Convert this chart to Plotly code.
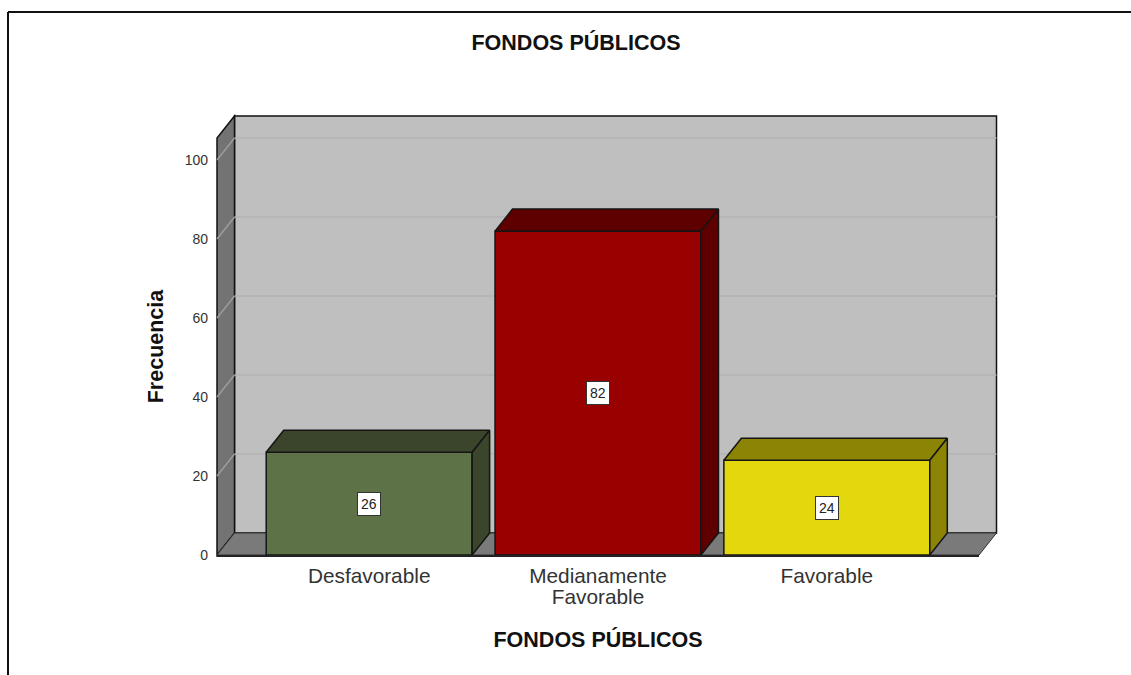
import plotly.graph_objects as go

categories = ["Desfavorable", "Medianamente", "Favorable"]
categories_second = ["", "Favorable", ""]
values = [26, 82, 24]
labels = ["26", "82", "24"]
y_ticks = [0, 20, 40, 60, 80, 100]
front_colors = ["#5d7247", "#990000", "#e3d80e"]
dark_colors = ["#3a452b", "#5e0000", "#8c8405"]

W, H = 1131, 675
LAYOUT_H = H + 8  # the rendered page comes out 8px shorter than the layout height
LEFT, RIGHT, BOTTOM, TOP = 217, 979, 555, 138  # front plane, pixels
DX, DY = 17.5, 22                               # depth offset, pixels
X_RANGE = (-0.665, 2.665)
Y_RANGE = (0, (BOTTOM - TOP) / 3.95)
BAR_W = 0.9
FONT = "Liberation Sans, Arial, sans-serif"

ux = (X_RANGE[1] - X_RANGE[0]) / (RIGHT - LEFT)
uy = (Y_RANGE[1] - Y_RANGE[0]) / (BOTTOM - TOP)
depth_x, depth_y = DX * ux, DY * uy


def px(v):
    return v / W


def py(v):
    return 1 - v / H


def poly(points, fill, line="#1a1a1a", width=1.5):
    path = "M" + " L".join(f"{px(a)},{py(b)}" for a, b in points) + " Z"
    return dict(type="path", xref="paper", yref="paper", path=path, fillcolor=fill,
                line=dict(color=line, width=width), layer="below")


def seg(a, b, color, width):
    return dict(type="line", xref="paper", yref="paper", x0=px(a[0]), y0=py(a[1]), x1=px(b[0]),
                y1=py(b[1]), line=dict(color=color, width=width), layer="below")


shapes = [
    poly([(LEFT + DX, BOTTOM - DY), (RIGHT + DX, BOTTOM - DY), (RIGHT + DX, TOP - DY), (LEFT + DX, TOP - DY)], "#bfbfbf", "#111111", 1.5),
    poly([(LEFT, BOTTOM), (LEFT + DX, BOTTOM - DY), (LEFT + DX, TOP - DY), (LEFT, TOP)], "#737373", "#111111", 1.5),
    poly([(LEFT, BOTTOM), (RIGHT, BOTTOM), (RIGHT + DX, BOTTOM - DY), (LEFT + DX, BOTTOM - DY)], "#7a7a7a", "#333333", 1),
]
for t in y_ticks[1:]:
    yp = BOTTOM - (t - Y_RANGE[0]) / uy
    shapes.append(seg((LEFT, yp), (LEFT + DX, yp - DY), "#9c9c9c", 1.5))
    shapes.append(seg((LEFT + DX, yp - DY), (RIGHT + DX, yp - DY), "#b3b3b3", 1.5))
shapes.append(seg((8, 12), (W, 12), "#111111", 2))
shapes.append(seg((8, 12), (8, H), "#111111", 2))
for s in shapes[-2:]:
    s["layer"] = "above"

xs = list(range(len(categories)))
fig = go.Figure()
fig.add_trace(go.Bar(x=xs, y=values, width=BAR_W, marker=dict(color=front_colors, line=dict(color="#151515", width=1.5)),
                     hoverinfo="skip", showlegend=False))
for x, v, dark in zip(xs, values, dark_colors):
    l, r = x - BAR_W / 2, x + BAR_W / 2
    fig.add_trace(go.Scatter(x=[l, r, r + depth_x, l + depth_x, l], y=[v, v, v + depth_y, v + depth_y, v],
                             mode="lines", fill="toself", fillcolor=dark, line=dict(color="#151515", width=1.5),
                             cliponaxis=False, showlegend=False, hoverinfo="skip"))
    fig.add_trace(go.Scatter(x=[r, r + depth_x, r + depth_x, r, r], y=[0, depth_y, v + depth_y, v, 0],
                             mode="lines", fill="toself", fillcolor=dark, line=dict(color="#151515", width=1.5),
                             cliponaxis=False, showlegend=False, hoverinfo="skip"))

annotations = [
    dict(x=x, y=v / 2, xref="x", yref="y", text=t, showarrow=False, bgcolor="white", bordercolor="#333333",
         borderwidth=1, borderpad=3, font=dict(family=FONT, size=14, color="#222222"))
    for x, v, t in zip(xs, values, labels)
]

span = '<span style="font-size:20.8px">%s</span>'
ticktext = [span % a + ("<br>" + span % b if b else "") for a, b in zip(categories, categories_second)]

fig.update_layout(
    width=W, height=LAYOUT_H, autosize=False, margin=dict(l=0, r=0, t=0, b=0), paper_bgcolor="white", plot_bgcolor="rgba(0,0,0,0)",
    shapes=shapes, annotations=annotations, showlegend=False, font=dict(family=FONT, color="#111111"),
    title=dict(text="<b>FONDOS PÚBLICOS</b>", x=576 / W, xanchor="center", y=1 - 42 / H, yanchor="middle",
               font=dict(family=FONT, size=21.5, color="#111111")),
    xaxis=dict(domain=[px(LEFT), px(RIGHT)], range=list(X_RANGE), tickvals=xs, ticktext=ticktext, ticks="",
               showgrid=False, zeroline=False, showline=True, linecolor="#222222", linewidth=1.5,
               tickfont=dict(family=FONT, size=16, color="#333333"), ticklabelstandoff=7,
               title=dict(text="<b>FONDOS PÚBLICOS</b>", standoff=25, font=dict(family=FONT, size=21.5, color="#111111"))),
    yaxis=dict(domain=[py(BOTTOM), py(TOP)], range=list(Y_RANGE), tickvals=y_ticks, ticks="", showgrid=False,
               zeroline=False, showline=False, tickfont=dict(family=FONT, size=14, color="#333333"),
               ticklabelstandoff=8,
               title=dict(text="<b>Frecuencia</b>", standoff=15, font=dict(family=FONT, size=21.5, color="#111111"))),
)
fig.write_html("out.html", config={"displayModeBar": False, "responsive": False},
               post_script="document.body.style.margin='0';document.documentElement.style.overflow='hidden';")
